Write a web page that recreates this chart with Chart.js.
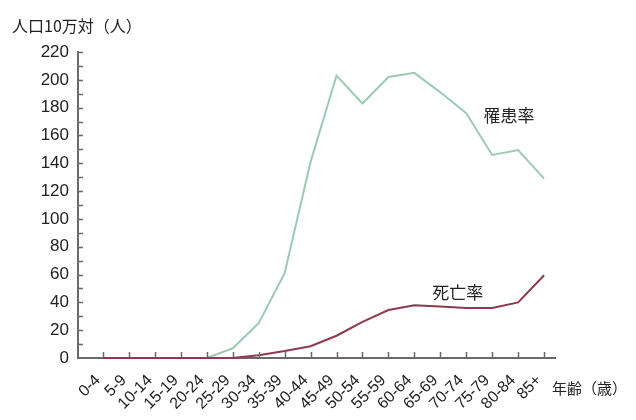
<!DOCTYPE html>
<html>
<head>
<meta charset="utf-8">
<script src="https://cdn.jsdelivr.net/npm/chart.js@4/dist/chart.umd.min.js"></script>
<style>
  html, body { margin: 0; padding: 0; background: #fff; }
  #wrap { width: 636px; height: 420px; position: relative; }
</style>
</head>
<body>
<div id="wrap"><canvas id="chart"></canvas></div>
<script>
// age groups on the x axis
const ageGroups = ['0-4', '5-9', '10-14', '15-19', '20-24', '25-29', '30-34', '35-39', '40-44',
    '45-49', '50-54', '55-59', '60-64', '65-69', '70-74', '75-79', '80-84', '85+'];

// 罹患率 (per 100,000)
const incidence = [0, 0, 0, 0, 0, 7, 25, 61, 141, 203, 183, 202, 205, 191, 176, 146, 149.5, 129];

// 死亡率 (per 100,000)
const mortality = [0, 0, 0, 0, 0, 0, 2, 5, 8.5, 16, 26, 34.5, 38, 37, 36, 36, 40, 59.5];

const yMax = 220;
const yMinorStep = 10;

const textColor = '#222';
const axisColor = '#6a6a6a';
const numFont = '"Liberation Sans", Arial, sans-serif';
const cjkFont = '"Noto Sans CJK JP", sans-serif';

// draws the short inward tick marks and the text labels
const decorations = {
    id: 'decorations',
    afterDraw(chart) {
        const ctx = chart.ctx;
        const x = chart.scales.x;
        const y = chart.scales.y;
        const area = chart.chartArea;

        ctx.save();
        ctx.strokeStyle = axisColor;
        ctx.lineWidth = 1.5;
        ctx.beginPath();
        for (let v = yMinorStep; v <= yMax; v += yMinorStep) {
            const py = Math.round(y.getPixelForValue(v)) + 0.5;
            ctx.moveTo(area.left, py);
            ctx.lineTo(area.left + 5, py);
        }
        ageGroups.forEach((_, i) => {
            const px = Math.round(x.getPixelForValue(i)) + 0.5;
            ctx.moveTo(px, area.bottom - 1);
            ctx.lineTo(px, area.bottom - 6);
        });
        ctx.stroke();

        ctx.fillStyle = textColor;
        ctx.textBaseline = 'middle';

        ctx.font = '16px ' + cjkFont;
        ctx.textAlign = 'left';
        ctx.fillText('人口10万対（人）', 12, 26);
        ctx.font = '15px ' + cjkFont;
        ctx.fillText('年齢（歳）', 552, 388);

        ctx.font = '17px ' + cjkFont;
        ctx.textAlign = 'center';
        ctx.fillText('罹患率', x.getPixelForValue(15.65), y.getPixelForValue(174.5));
        ctx.fillText('死亡率', x.getPixelForValue(13.67), y.getPixelForValue(47));
        ctx.restore();
    }
};

const ctx = document.getElementById('chart').getContext('2d');

new Chart(ctx, {
    type: 'line',
    data: {
        datasets: [
            {
                label: '死亡率',
                data: mortality.map((v, i) => ({ x: i, y: v })),
                borderColor: '#8c3a4c',
                borderWidth: 2,
                pointRadius: 0,
                tension: 0,
                clip: false,
                order: 0
            },
            {
                label: '罹患率',
                data: incidence.map((v, i) => ({ x: i, y: v })),
                borderColor: '#9ccab2',
                borderWidth: 2,
                pointRadius: 0,
                tension: 0,
                clip: false,
                order: 1
            }
        ]
    },
    options: {
        responsive: true,
        maintainAspectRatio: false,
        animation: false,
        layout: {
            padding: { left: 0, top: 52, right: 81, bottom: 0 }
        },
        plugins: {
            legend: { display: false },
            tooltip: { enabled: false }
        },
        scales: {
            x: {
                type: 'linear',
                min: -0.964,
                max: 17.42,
                afterBuildTicks: scale => {
                    scale.ticks = ageGroups.map((_, i) => ({ value: i }));
                },
                afterFit: scale => { scale.height = 62; },
                grid: { display: false, drawTicks: false },
                border: { display: true, color: axisColor, width: 2 },
                ticks: {
                    autoSkip: false,
                    minRotation: 45,
                    maxRotation: 45,
                    padding: 13,
                    labelOffset: -5,
                    color: textColor,
                    font: { family: numFont, size: 16 },
                    callback: value => ageGroups[value] ?? ''
                }
            },
            y: {
                min: 0,
                max: yMax,
                afterFit: scale => { scale.width = 78; },
                grid: { display: false, drawTicks: false },
                border: { display: true, color: axisColor, width: 2 },
                ticks: {
                    stepSize: 20,
                    padding: 9,
                    color: textColor,
                    font: { family: numFont, size: 17 }
                }
            }
        }
    },
    plugins: [decorations]
});
</script>
</body>
</html>
